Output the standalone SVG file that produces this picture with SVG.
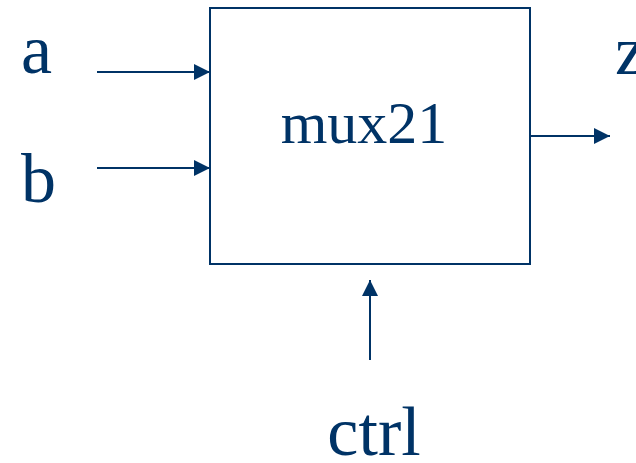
<svg xmlns="http://www.w3.org/2000/svg" width="636" height="463" viewBox="0 0 636 463">
  <style>
    .lbl { font-family: "Liberation Serif", "Times New Roman", serif; fill: #003366; }
    .big { font-size: 70px; }
    .mid { font-size: 60px; }
    .wire { stroke: #003366; stroke-width: 2; fill: none; }
    .box { stroke: #003366; stroke-width: 2; fill: #ffffff; }
  </style>
  <defs>
    <marker id="head" markerUnits="userSpaceOnUse" markerWidth="16" markerHeight="16" viewBox="0 0 16 16" refX="16" refY="8" orient="auto">
      <path d="M0,0 L16,8 L0,16 Z" fill="#003366"/>
    </marker>
  </defs>

  <g id="mux21">
    <rect class="box" x="210" y="8" width="320" height="256"/>
    <text class="lbl mid" x="364" y="143" text-anchor="middle">mux21</text>
  </g>

  <g id="in-a">
    <text class="lbl big" x="21" y="73">a</text>
  </g>
  <g id="in-b">
    <text class="lbl big" x="21" y="202">b</text>
  </g>
  <g id="out-z">
    <text class="lbl big" x="615" y="74">z</text>
  </g>
  <g id="in-ctrl">
    <text class="lbl big" x="374" y="455" text-anchor="middle">ctrl</text>
  </g>

  <g id="connectors">
    <line class="wire" x1="97" y1="72" x2="210" y2="72" marker-end="url(#head)"/>
    <line class="wire" x1="97" y1="168" x2="210" y2="168" marker-end="url(#head)"/>
    <line class="wire" x1="530" y1="136" x2="610" y2="136" marker-end="url(#head)"/>
    <line class="wire" x1="370" y1="360" x2="370" y2="280" marker-end="url(#head)"/>
  </g>
</svg>
